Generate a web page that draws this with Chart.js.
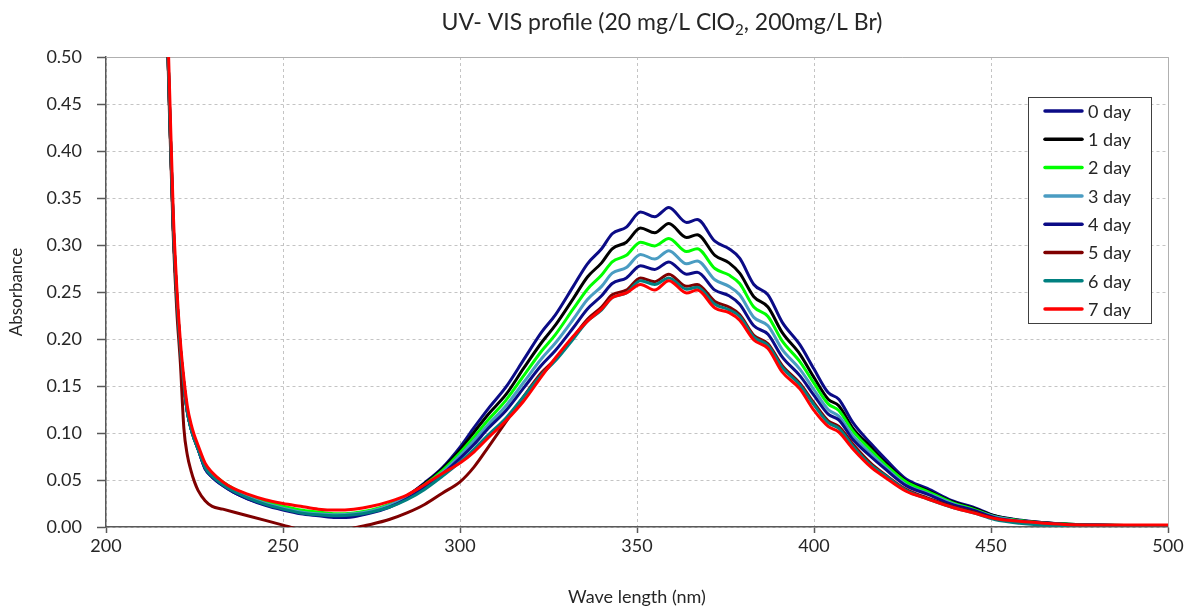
<!DOCTYPE html>
<html><head><meta charset="utf-8">
<script src="https://cdn.jsdelivr.net/npm/chart.js@4/dist/chart.umd.min.js"></script>
<style>html,body{margin:0;padding:0;background:#fff;}#wrap{width:1190px;height:610px;}</style>
</head><body><div id="wrap"><canvas id="c" width="1190" height="610"></canvas></div>
<script>
// ---- data ----
const wavelengths = [215,216,217,218,219,220,221,222,223,224,225,226,228,230,233,236,240,245,250,255,260,265,270,275,280,285,290,295,
  300,304,308,313,318,323,327,332,336,340,343,347,351,355,359,364,367,372,376,379,383,387,391,396,400,404,407,411,416,420,426,432,439,445,451,458,465,472,480,490,500];

const day0 = [0.90,0.72,0.57,0.44,0.32,0.245,0.19,0.152,0.122,0.105,0.093,0.083,
  0.062,0.053,0.044,0.037,0.030,0.024,0.019,0.015,0.013,0.011,0.012,0.016,0.023,0.033,0.047,0.063,
  0.085,0.106,0.126,0.149,0.178,0.207,0.226,0.256,0.280,0.296,
  0.312,0.319,0.335,0.330,0.340,0.324,0.327,0.304,0.296,0.286,
  0.258,0.247,0.218,0.194,0.168,0.143,0.136,0.111,0.089,0.073,
  0.051,0.041,0.028,0.021,0.012,0.0075,0.0045,0.003,0.002,0.0015,0.0015];
const day1 = [0.90,0.72,0.57,0.44,0.32,0.245,0.19,0.152,0.122,0.105,0.093,0.083,
  0.064,0.055,0.046,0.039,0.032,0.025,0.020,0.016,0.014,0.012,0.013,0.017,0.023,0.033,0.046,0.062,
  0.082,0.101,0.120,0.141,0.169,0.196,0.215,0.243,0.266,0.281,
  0.296,0.303,0.318,0.313,0.323,0.308,0.311,0.289,0.281,0.270,
  0.245,0.234,0.207,0.184,0.159,0.136,0.129,0.105,0.085,0.069,
  0.049,0.039,0.027,0.020,0.012,0.007,0.0045,0.003,0.002,0.0015,0.0015];
const day2 = [0.90,0.72,0.57,0.44,0.32,0.245,0.19,0.152,0.122,0.105,0.093,0.083,
  0.066,0.057,0.048,0.041,0.034,0.027,0.022,0.018,0.016,0.014,0.015,0.018,0.024,0.033,0.045,0.060,
  0.079,0.096,0.114,0.135,0.161,0.187,0.205,0.232,0.253,0.268,
  0.282,0.289,0.303,0.299,0.307,0.293,0.296,0.275,0.268,0.259,
  0.234,0.224,0.198,0.176,0.153,0.131,0.124,0.102,0.082,0.067,
  0.048,0.038,0.026,0.019,0.011,0.007,0.004,0.003,0.002,0.0015,0.0015];
const day3 = [0.90,0.72,0.57,0.44,0.32,0.245,0.19,0.152,0.122,0.105,0.093,0.083,
  0.064,0.055,0.046,0.039,0.032,0.025,0.020,0.016,0.014,0.013,0.014,0.017,0.023,0.032,0.044,0.058,
  0.076,0.092,0.109,0.129,0.154,0.179,0.196,0.221,0.242,0.256,
  0.270,0.276,0.290,0.285,0.294,0.280,0.283,0.263,0.256,0.247,
  0.223,0.214,0.189,0.168,0.146,0.125,0.118,0.097,0.078,0.064,
  0.045,0.036,0.025,0.018,0.011,0.0065,0.004,0.0025,0.002,0.0015,0.0015];
const day4 = [0.90,0.72,0.57,0.44,0.32,0.245,0.19,0.152,0.122,0.105,0.093,0.083,
  0.062,0.053,0.044,0.037,0.030,0.023,0.018,0.014,0.012,0.010,0.011,0.015,0.021,0.030,0.042,0.056,
  0.073,0.088,0.105,0.124,0.148,0.172,0.188,0.212,0.232,0.246,
  0.259,0.265,0.278,0.274,0.282,0.269,0.271,0.252,0.246,0.237,
  0.214,0.205,0.181,0.161,0.140,0.120,0.114,0.093,0.075,0.062,
  0.044,0.035,0.024,0.018,0.010,0.006,0.004,0.0025,0.002,0.0015,0.0015];
const day5 = [0.90,0.72,0.57,0.43,0.31,0.23,0.175,0.105,0.076,0.060,0.048,0.039,
  0.028,0.022,0.019,0.016,0.012,0.007,0.002,-0.003,-0.006,-0.005,-0.001,0.003,0.008,0.015,0.024,0.036,
  0.048,0.064,0.085,0.112,0.139,0.164,0.179,0.202,0.221,0.234,
  0.247,0.252,0.265,0.261,0.269,0.256,0.258,0.240,0.234,0.226,
  0.204,0.195,0.172,0.153,0.132,0.113,0.107,0.088,0.068,0.056,
  0.040,0.031,0.022,0.016,0.009,0.005,0.003,0.002,0.0015,0.001,0.001];
const day6 = [0.90,0.72,0.57,0.44,0.32,0.245,0.19,0.152,0.122,0.105,0.093,0.083,
  0.063,0.054,0.045,0.038,0.031,0.024,0.019,0.015,0.013,0.012,0.013,0.016,0.021,0.029,0.040,0.054,
  0.069,0.083,0.098,0.116,0.139,0.162,0.177,0.200,0.219,0.231,
  0.244,0.249,0.262,0.258,0.265,0.253,0.255,0.237,0.231,0.224,
  0.202,0.193,0.170,0.151,0.130,0.111,0.105,0.086,0.066,0.055,
  0.039,0.030,0.021,0.015,0.008,0.004,0.002,0.0015,0.001,0.001,0.001];
const day7 = [0.92,0.74,0.59,0.46,0.335,0.255,0.198,0.158,0.128,0.110,0.097,0.087,
  0.068,0.058,0.048,0.041,0.035,0.029,0.025,0.022,0.019,0.018,0.019,0.022,0.027,0.034,0.045,0.057,
  0.068,0.080,0.095,0.113,0.134,0.160,0.180,0.203,0.219,0.232,
  0.244,0.249,0.258,0.252,0.262,0.249,0.252,0.233,0.228,0.220,
  0.199,0.190,0.165,0.147,0.124,0.107,0.101,0.083,0.064,0.053,
  0.038,0.030,0.021,0.015,0.009,0.006,0.004,0.0025,0.002,0.002,0.002];

const seriesLabels = ['0 day','1 day','2 day','3 day','4 day','5 day','6 day','7 day'];
const seriesValues = [day0, day1, day2, day3, day4, day5, day6, day7];
const seriesColors = ['#0b0b86','#000000','#00ff00','#4a9cc2','#0b0b86','#7f0000','#008080','#ff0000'];
const xTickValues = [200, 250, 300, 350, 400, 450, 500];
const yTickValues = [0.00,0.05,0.10,0.15,0.20,0.25,0.30,0.35,0.40,0.45,0.50];
const titleParts = [['UV- VIS profile (20 mg/L ClO', false], ['2', true], [', 200mg/L Br)', false]];
const xTitle = 'Wave length (nm)';
const yTitle = 'Absorbance';

const FONT = 'Lato, "Open Sans", "DejaVu Sans", sans-serif';
const TXT = '#262626';

const datasets = seriesValues.map((vals, i) => ({
  label: seriesLabels[i],
  data: wavelengths.map((w, k) => ({x: w, y: vals[k]})),
  borderColor: seriesColors[i],
  backgroundColor: seriesColors[i],
  borderWidth: 3,
  pointRadius: 0,
  fill: false,
  cubicInterpolationMode: 'monotone',
  order: seriesValues.length - 1 - i
}));

const framePlugin = {
  id: 'frame',
  beforeDatasetsDraw(chart) {
    const {ctx, chartArea: a} = chart;
    ctx.save();
    ctx.strokeStyle = '#b0b0b0';
    ctx.lineWidth = 1;
    ctx.beginPath();
    ctx.moveTo(a.left, a.top + 0.5); ctx.lineTo(a.right + 0.5, a.top + 0.5);
    ctx.lineTo(a.right + 0.5, a.bottom);
    ctx.stroke();
    ctx.restore();
  }
};

const titlePlugin = {
  id: 'customTitle',
  afterDraw(chart) {
    const ctx = chart.ctx;
    ctx.save();
    const normal = '23px ' + FONT, small = '15px ' + FONT;
    let total = 0;
    titleParts.forEach(([t, sub]) => { ctx.font = sub ? small : normal; total += ctx.measureText(t).width; });
    let x = 662 - total / 2;
    const y = 23;
    ctx.fillStyle = TXT;
    ctx.textBaseline = 'middle';
    ctx.textAlign = 'left';
    titleParts.forEach(([t, sub]) => {
      ctx.font = sub ? small : normal;
      ctx.fillText(t, x, sub ? y + 7 : y);
      x += ctx.measureText(t).width;
    });
    ctx.restore();
  }
};

const legendPlugin = {
  id: 'boxLegend',
  afterDraw(chart) {
    const ctx = chart.ctx;
    ctx.save();
    ctx.fillStyle = '#ffffff';
    ctx.fillRect(1028, 97, 124, 226);
    ctx.strokeStyle = '#404040';
    ctx.lineWidth = 1;
    ctx.strokeRect(1028.5, 97.5, 123, 226);
    ctx.font = '18px ' + FONT;
    ctx.textBaseline = 'middle';
    ctx.textAlign = 'left';
    chart.data.datasets.forEach((ds, i) => {
      const y = 111 + i * 28.3;
      ctx.strokeStyle = ds.borderColor;
      ctx.lineWidth = 3.5;
      ctx.lineCap = 'round';
      ctx.beginPath(); ctx.moveTo(1045, y); ctx.lineTo(1082, y); ctx.stroke();
      ctx.fillStyle = TXT;
      ctx.fillText(ds.label, 1088, y + 1);
    });
    ctx.restore();
  }
};

new Chart(document.getElementById('c'), {
  type: 'line',
  data: {datasets},
  options: {
    responsive: false,
    animation: false,
    devicePixelRatio: 1,
    layout: {padding: {top: 57, right: 22, left: 0, bottom: 0}},
    plugins: {legend: {display: false}, title: {display: false}, tooltip: {enabled: false}},
    scales: {
      x: {
        type: 'linear', min: 200, max: 500,
        afterFit: s => { s.height = 83; },
        afterBuildTicks: s => { s.ticks = xTickValues.map(v => ({value: v})); },
        ticks: {color: TXT, font: {family: FONT, size: 18}, padding: 2, maxRotation: 0,
                callback: v => String(v)},
        grid: {color: '#c4c4c4', lineWidth: 1, tickColor: '#595959', tickLength: 6, tickWidth: 1.5},
        border: {display: true, color: '#595959', width: 1.5, dash: [3, 3]},
        title: {display: true, text: xTitle, color: TXT, font: {family: FONT, size: 18}, padding: {top: 0, bottom: 2}}
      },
      y: {
        min: 0, max: 0.5,
        afterFit: s => { s.width = 106; },
        afterBuildTicks: s => { s.ticks = yTickValues.map(v => ({value: v})); },
        ticks: {color: TXT, font: {family: FONT, size: 18}, padding: 15,
                callback: v => Number(v).toFixed(2)},
        grid: {color: '#c4c4c4', lineWidth: 1, tickColor: '#595959', tickLength: 9, tickWidth: 1.5},
        border: {display: true, color: '#595959', width: 1.5, dash: [3, 3]},
        title: {display: true, text: yTitle, color: TXT, font: {family: FONT, size: 17}, padding: {top: 6, bottom: 0}}
      }
    }
  },
  plugins: [framePlugin, titlePlugin, legendPlugin]
});
</script>
</body></html>
